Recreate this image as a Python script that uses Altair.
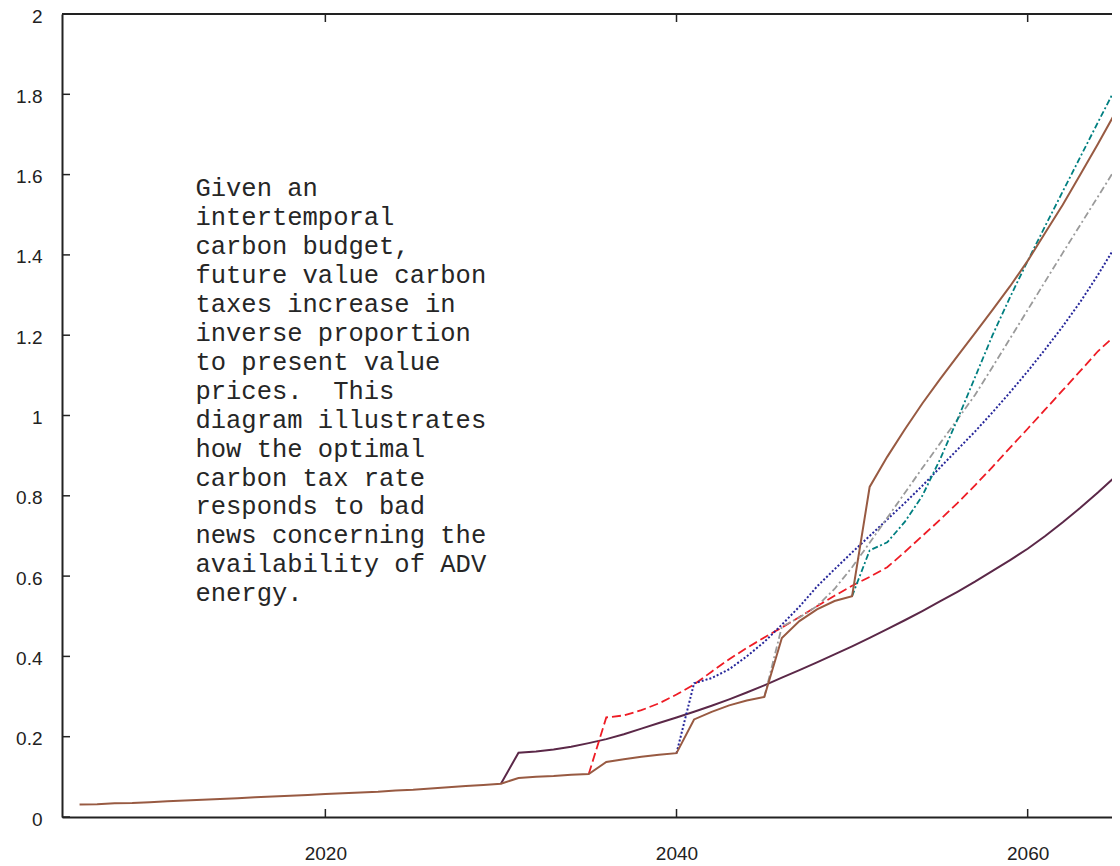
import altair as alt
import pandas as pd

# ---------------- data ----------------
brown_years = list(range(2006, 2067))
brown_vals = [0.031, 0.032, 0.034, 0.035, 0.037, 0.039, 0.041, 0.043, 0.045, 0.047,
              0.049, 0.051, 0.053, 0.055, 0.057, 0.059, 0.061, 0.063, 0.066, 0.068,
              0.071, 0.074, 0.077, 0.080, 0.083,
              0.097, 0.100, 0.102, 0.105, 0.107,
              0.137, 0.144, 0.150, 0.155, 0.159,
              0.243, 0.262, 0.278, 0.290, 0.299,
              0.446, 0.488, 0.517, 0.538, 0.550,
              0.822, 0.897, 0.965, 1.030, 1.090, 1.148, 1.205, 1.263, 1.322, 1.385,
              1.455, 1.525, 1.600, 1.676, 1.755, 1.835]

purple_years = list(range(2030, 2067))
purple_vals = [0.083, 0.160, 0.163, 0.168, 0.175, 0.184, 0.194, 0.206, 0.220, 0.234,
               0.248, 0.262, 0.277, 0.293, 0.310, 0.328, 0.347, 0.366, 0.385, 0.405,
               0.425, 0.446, 0.468, 0.490, 0.513, 0.537, 0.561, 0.586, 0.613, 0.640,
               0.668, 0.700, 0.734, 0.770, 0.808, 0.848, 0.890]

red_years = list(range(2035, 2067))
red_vals = [0.107, 0.248, 0.253, 0.266, 0.283, 0.305, 0.330, 0.362, 0.393, 0.421,
            0.447, 0.472, 0.498, 0.525, 0.551, 0.576, 0.598, 0.622, 0.660, 0.700,
            0.740, 0.782, 0.826, 0.872, 0.920, 0.967, 1.015, 1.063, 1.111, 1.160,
            1.200, 1.245]

blue_years = list(range(2040, 2067))
blue_vals = [0.159, 0.333, 0.346, 0.368, 0.400, 0.436, 0.479, 0.524, 0.574, 0.617,
             0.659, 0.700, 0.741, 0.782, 0.825, 0.870, 0.915, 0.960, 1.008, 1.058,
             1.110, 1.165, 1.222, 1.283, 1.350, 1.422, 1.500]

gray_years = list(range(2045, 2067))
gray_vals = [0.299, 0.474, 0.497, 0.525, 0.568, 0.622, 0.683, 0.745, 0.807, 0.869,
             0.930, 0.990, 1.051, 1.121, 1.192, 1.263, 1.334, 1.405, 1.475, 1.545,
             1.615, 1.685]

teal_years = list(range(2050, 2067))
teal_vals = [0.550, 0.664, 0.684, 0.735, 0.800, 0.890, 0.990, 1.095, 1.200, 1.295,
             1.385, 1.472, 1.558, 1.644, 1.730, 1.815, 1.900]

x_ticks = [2020, 2040, 2060]
y_ticks = [0, 0.2, 0.4, 0.6, 0.8, 1.0, 1.2, 1.4, 1.6, 1.8, 2.0]

note_lines = ["Given an", "intertemporal", "carbon budget,", "future value carbon",
              "taxes increase in", "inverse proportion", "to present value",
              "prices.\u00a0 This", "diagram illustrates", "how the optimal",
              "carbon tax rate", "responds to bad", "news concerning the",
              "availability of ADV", "energy."]

# ---------------- layout ----------------
PX_PER_YEAR = 17.5575
W, H = 1050, 803
X_MIN, X_MAX = 2005, 2005 + W / PX_PER_YEAR
Y_MIN, Y_MAX = 0, 2
AXIS_COLOR = "#222222"
LABEL_FONT = "Liberation Sans"

xs = alt.Scale(domain=[X_MIN, X_MAX], nice=False, zero=False)
ys = alt.Scale(domain=[Y_MIN, Y_MAX], nice=False)

xaxis = alt.Axis(values=x_ticks, format="d", title=None, grid=False, ticks=False, tickSize=0,
                 labelPadding=27, labelFontSize=19, labelFont=LABEL_FONT, labelColor=AXIS_COLOR,
                 domainColor=AXIS_COLOR, domainWidth=2, labelFlush=False)
yaxis = alt.Axis(values=y_ticks, format=".1~f", title=None, grid=False, ticks=False, tickSize=0,
                 labelPadding=20, labelFontSize=19, labelFont=LABEL_FONT, labelColor=AXIS_COLOR,
                 domainColor=AXIS_COLOR, domainWidth=2, labelOffset=2, labelFlush=False)

X = alt.X("year:Q", scale=xs, axis=xaxis)
Y = alt.Y("value:Q", scale=ys, axis=yaxis)


def series(years, vals, color, dash=None, width=2.0):
    df = pd.DataFrame({"year": years, "value": vals})
    kw = dict(color=color, strokeWidth=width, clip=True)
    if dash:
        kw["strokeDash"] = dash
    return alt.Chart(df).mark_line(**kw).encode(x=X, y=Y, order="year:Q")


purple = series(purple_years, purple_vals, "#5b2848", width=2.0)
red = series(red_years, red_vals, "#ee1c25", dash=[9, 4], width=1.8)
blue = series(blue_years, blue_vals, "#26269a", dash=[2, 2], width=2.0)
gray = series(gray_years, gray_vals, "#9a9a9a", dash=[7, 3, 2, 3], width=1.8)
teal = series(teal_years, teal_vals, "#007f80", dash=[6, 2.5, 2, 2.5], width=1.8)
brown = series(brown_years, brown_vals, "#985a42", width=2.0)

# frame pieces and inward ticks
top_line = alt.Chart(pd.DataFrame({"value": [Y_MAX]})).mark_rule(
    color=AXIS_COLOR, strokeWidth=2).encode(y=Y, x=alt.value(0), x2=alt.value(W))
y_tick_marks = alt.Chart(pd.DataFrame({"value": y_ticks})).mark_rule(
    color=AXIS_COLOR, strokeWidth=1.5).encode(y=Y, x=alt.value(0), x2=alt.value(8))
x_tick_bottom = alt.Chart(pd.DataFrame({"year": x_ticks})).mark_rule(
    color=AXIS_COLOR, strokeWidth=1.5).encode(x=X, y=alt.value(H), y2=alt.value(H - 8))
x_tick_top = alt.Chart(pd.DataFrame({"year": x_ticks})).mark_rule(
    color=AXIS_COLOR, strokeWidth=1.5).encode(x=X, y=alt.value(0), y2=alt.value(8))

note = alt.Chart(pd.DataFrame({"k": [0]})).mark_text(
    text=note_lines, align="left", baseline="alphabetic", font="Liberation Mono",
    fontSize=25.5, lineHeight=28.93, color="#262626"
).encode(x=alt.datum(2012.6), y=alt.datum(1.546))

chart = alt.layer(
    purple, red, blue, gray, teal, brown,
    top_line, y_tick_marks, x_tick_bottom, x_tick_top, note
).properties(
    width=W, height=H,
    autosize=alt.AutoSizeParams(type="none"),
    padding={"left": 54, "top": 6, "right": 0, "bottom": 49},
    background="white",
).configure_view(stroke=None)

chart.save("out.html", embed_options={"renderer": "svg", "actions": False})
